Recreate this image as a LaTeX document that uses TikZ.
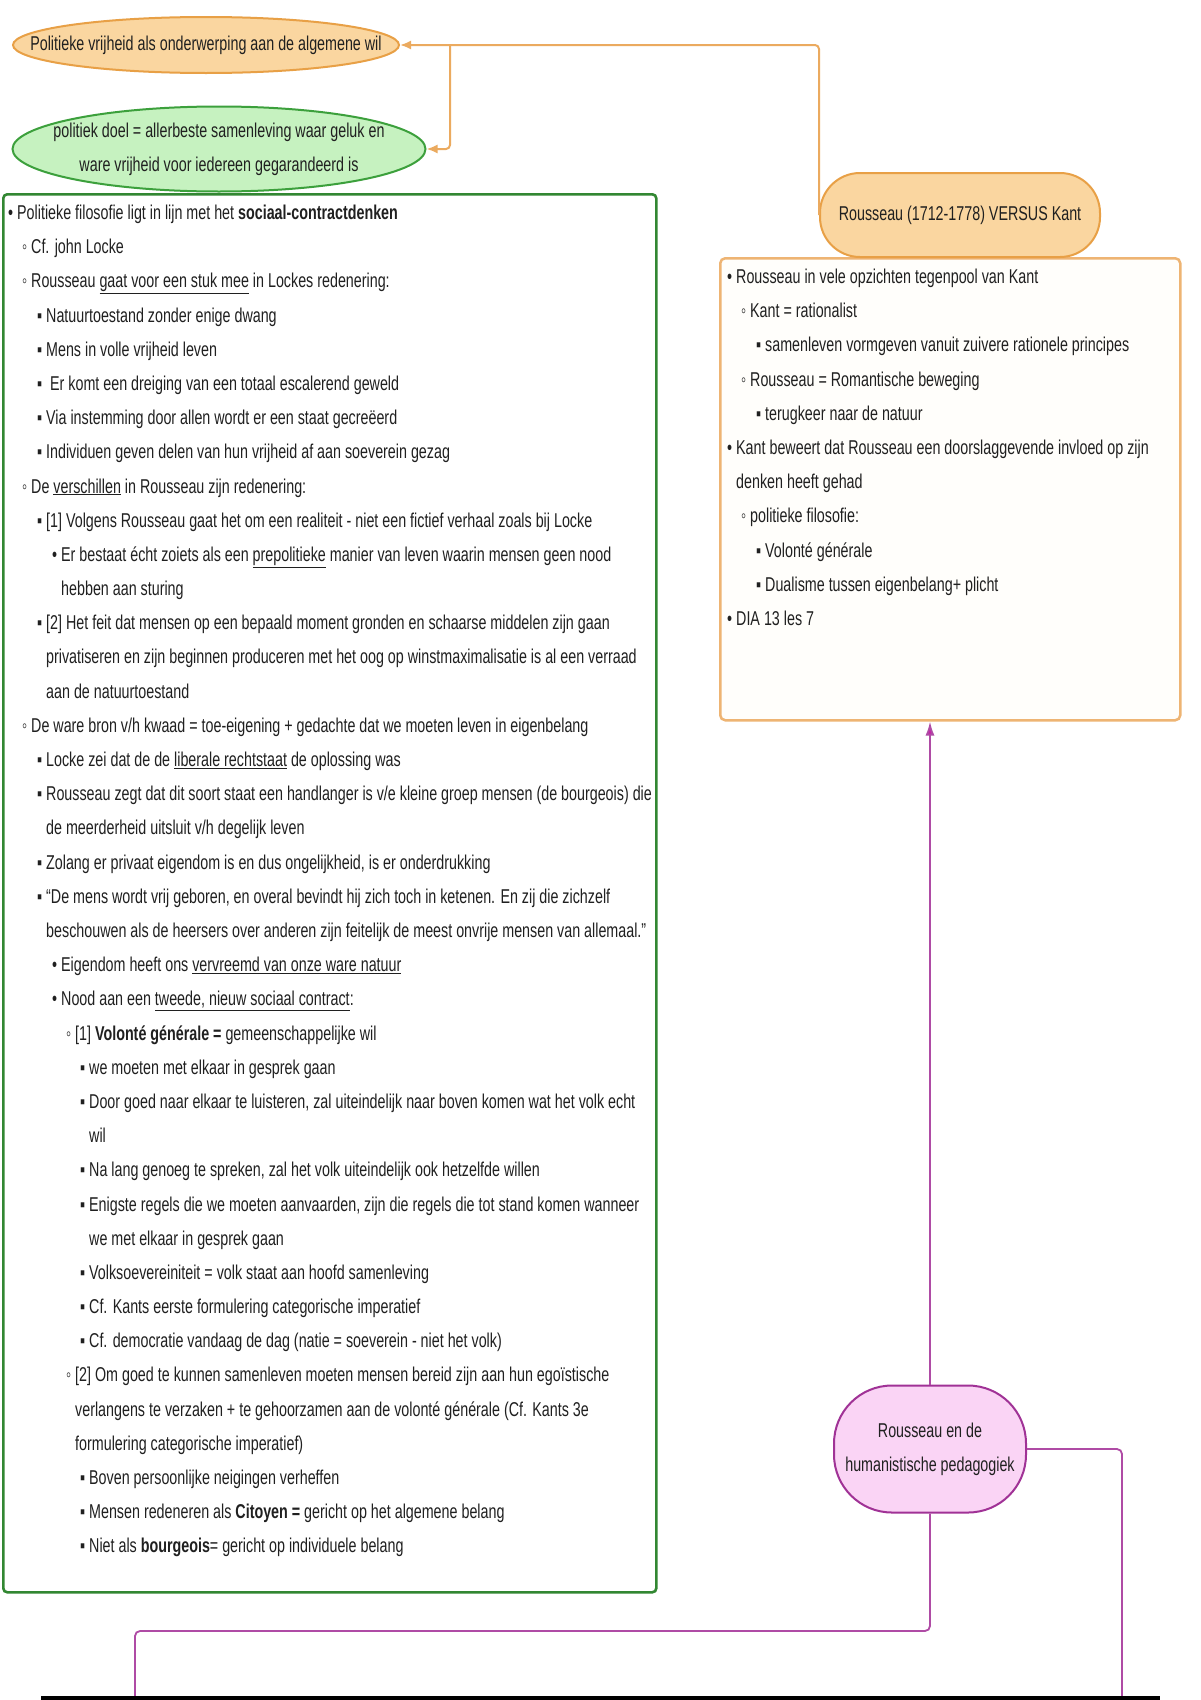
\documentclass[tikz,border=0pt]{standalone}
\usepackage{fontspec}
\setmainfont{Liberation Sans}[FakeStretch=0.715]
\usetikzlibrary{shapes.geometric,arrows.meta}
\definecolor{txtc}{RGB}{32,32,32}
\definecolor{orfill}{RGB}{250,214,160}
\definecolor{ordraw}{RGB}{232,160,70}
\definecolor{orline}{RGB}{235,170,95}
\definecolor{grfill}{RGB}{198,242,192}
\definecolor{grdraw}{RGB}{60,160,60}
\definecolor{gbox}{RGB}{50,135,50}
\definecolor{obox}{RGB}{238,180,115}
\definecolor{obfill}{RGB}{255,254,251}
\definecolor{pkfill}{RGB}{250,212,245}
\definecolor{pkdraw}{RGB}{160,50,150}
\definecolor{mgline}{RGB}{175,75,165}
\definecolor{mgtip}{RGB}{200,30,170}
\newcommand\BD{\llap{•\hspace{4pt}}}
\newcommand\BC{\llap{◦\hspace{4pt}}}
\newcommand\BS{\llap{▪\hspace{4pt}}}
\newcommand\ZW[1]{\makebox[0pt]{#1}}
\newcommand\GL[3]{\node[tl] (g#1) at (#2,{219.5+(#1-1)*34.19}) {#3};}
\newcommand\KL[3]{\node[tl] (k#1) at (#2,{283.5+(#1-1)*34.19}) {#3};}
\begin{document}
\begin{tikzpicture}[x=1pt,y=-1pt,
  every node/.style={text=txtc,font=\fontsize{20}{34}\selectfont},
  tl/.style={anchor=base west,inner sep=0pt},
  oline/.style={draw=orline,line width=2pt,rounded corners=4pt},
  mline/.style={draw=mgline,line width=1.8pt,rounded corners=5pt},
  otip/.style={-{Latex[length=11pt,width=9pt,fill=orline]}},
  mtip/.style={-{Latex[length=14pt,width=9pt,fill=mgtip]}}]
\fill[white] (0,0) rectangle (1200,1700);
\useasboundingbox (0,0) rectangle (1200,1700);
\def\La{17}\def\Lb{31}\def\Lc{46}\def\Ld{61}\def\Le{75}\def\Lf{89}
\def\Ra{736}\def\Rb{750}\def\Rc{765}
% boxes
\node[draw=gbox,line width=2.6pt,rounded corners=4pt,fill=white,minimum width=653pt,minimum height=1398pt,anchor=north west,inner sep=0pt] (gb) at (2,193) {};
\node[draw=obox,line width=2.5pt,rounded corners=5pt,fill=obfill,minimum width=460pt,minimum height=462pt,anchor=north west,inner sep=0pt] (ob) at (719,257) {};
% ellipses / pills
\node[ellipse,draw=ordraw,line width=2pt,fill=orfill,minimum width=386pt,minimum height=56pt,inner sep=0pt] (pv) at (206,45) {\ZW{Politieke vrijheid als onderwerping aan de algemene wil}};
\node[ellipse,draw=grdraw,line width=2pt,fill=grfill,minimum width=413pt,minimum height=85pt,inner sep=0pt,align=center] (pd) at (219,149) {\ZW{politiek doel = allerbeste samenleving waar geluk en}\\\ZW{ware vrijheid voor iedereen gegarandeerd is}};
\node[draw=ordraw,line width=2pt,fill=orfill,rounded corners=40pt,minimum width=280pt,minimum height=84pt,inner sep=0pt] (rk) at (960,215) {Rousseau (1712-1778) VERSUS Kant};
\node[draw=pkdraw,line width=2pt,fill=pkfill,rounded corners=58pt,minimum width=192pt,minimum height=127pt,inner sep=0pt,align=center] (pk) at (930,1449) {Rousseau en de\\humanistische pedagogiek};
% connectors
\coordinate (br) at (450,45);
\draw[oline,otip] (rk.west) |- (pv.east);
\draw[oline,otip] (br) |- (pd.east);
\draw[mline,mtip,rounded corners=0pt] (pk.north) -- (pk.north |- ob.south);
\coordinate (c1) at (135,1631);
\coordinate (e1) at (135,1697);
\coordinate (e2) at (1122,1697);
\draw[mline] (pk.south) |- (c1) -- (e1);
\draw[mline] (pk.east) -| (e2);
\draw[line width=5pt,black] (41,1698) -- (1160,1698);
% left box text
\GL{1}{\La}{\BD Politieke filosofie ligt in lijn met het \textbf{sociaal-contractdenken}}
\GL{2}{\Lb}{\BC Cf. john Locke}
\GL{3}{\Lb}{\BC Rousseau \underline{gaat voor een stuk mee} in Lockes redenering:}
\GL{4}{\Lc}{\BS Natuurtoestand zonder enige dwang}
\GL{5}{\Lc}{\BS Mens in volle vrijheid leven}
\GL{6}{\Lc}{\BS\hspace{4pt}Er komt een dreiging van een totaal escalerend geweld}
\GL{7}{\Lc}{\BS Via instemming door allen wordt er een staat gecreëerd}
\GL{8}{\Lc}{\BS Individuen geven delen van hun vrijheid af aan soeverein gezag}
\GL{9}{\Lb}{\BC De \underline{verschillen} in Rousseau zijn redenering:}
\GL{10}{\Lc}{\BS [1] Volgens Rousseau gaat het om een realiteit - niet een fictief verhaal zoals bij Locke}
\GL{11}{\Ld}{\BD Er bestaat écht zoiets als een \underline{prepolitieke} manier van leven waarin mensen geen nood}
\GL{12}{\Ld}{hebben aan sturing}
\GL{13}{\Lc}{\BS [2] Het feit dat mensen op een bepaald moment gronden en schaarse middelen zijn gaan}
\GL{14}{\Lc}{privatiseren en zijn beginnen produceren met het oog op winstmaximalisatie is al een verraad}
\GL{15}{\Lc}{aan de natuurtoestand}
\GL{16}{\Lb}{\BC De ware bron v/h kwaad = toe-eigening + gedachte dat we moeten leven in eigenbelang}
\GL{17}{\Lc}{\BS Locke zei dat de de \underline{liberale rechtstaat} de oplossing was}
\GL{18}{\Lc}{\BS Rousseau zegt dat dit soort staat een handlanger is v/e kleine groep mensen (de bourgeois) die}
\GL{19}{\Lc}{de meerderheid uitsluit v/h degelijk leven}
\GL{20}{\Lc}{\BS Zolang er privaat eigendom is en dus ongelijkheid, is er onderdrukking}
\GL{21}{\Lc}{\BS “De mens wordt vrij geboren, en overal bevindt hij zich toch in ketenen. En zij die zichzelf}
\GL{22}{\Lc}{beschouwen als de heersers over anderen zijn feitelijk de meest onvrije mensen van allemaal.”}
\GL{23}{\Ld}{\BD Eigendom heeft ons \underline{vervreemd van onze ware natuur}}
\GL{24}{\Ld}{\BD Nood aan een \underline{tweede, nieuw sociaal contract}:}
\GL{25}{\Le}{\BC [1] \textbf{Volonté générale =} gemeenschappelijke wil}
\GL{26}{\Lf}{\BS we moeten met elkaar in gesprek gaan}
\GL{27}{\Lf}{\BS Door goed naar elkaar te luisteren, zal uiteindelijk naar boven komen wat het volk echt}
\GL{28}{\Lf}{wil}
\GL{29}{\Lf}{\BS Na lang genoeg te spreken, zal het volk uiteindelijk ook hetzelfde willen}
\GL{30}{\Lf}{\BS Enigste regels die we moeten aanvaarden, zijn die regels die tot stand komen wanneer}
\GL{31}{\Lf}{we met elkaar in gesprek gaan}
\GL{32}{\Lf}{\BS Volksoevereiniteit = volk staat aan hoofd samenleving}
\GL{33}{\Lf}{\BS Cf. Kants eerste formulering categorische imperatief}
\GL{34}{\Lf}{\BS Cf. democratie vandaag de dag (natie = soeverein - niet het volk)}
\GL{35}{\Le}{\BC [2] Om goed te kunnen samenleven moeten mensen bereid zijn aan hun egoïstische}
\GL{36}{\Le}{verlangens te verzaken + te gehoorzamen aan de volonté générale (Cf. Kants 3e}
\GL{37}{\Le}{formulering categorische imperatief)}
\GL{38}{\Lf}{\BS Boven persoonlijke neigingen verheffen}
\GL{39}{\Lf}{\BS Mensen redeneren als \textbf{Citoyen =} gericht op het algemene belang}
\GL{40}{\Lf}{\BS Niet als \textbf{bourgeois}= gericht op individuele belang}
% right box text
\KL{1}{\Ra}{\BD Rousseau in vele opzichten tegenpool van Kant}
\KL{2}{\Rb}{\BC Kant = rationalist}
\KL{3}{\Rc}{\BS samenleven vormgeven vanuit zuivere rationele principes}
\KL{4}{\Rb}{\BC Rousseau = Romantische beweging}
\KL{5}{\Rc}{\BS terugkeer naar de natuur}
\KL{6}{\Ra}{\BD Kant beweert dat Rousseau een doorslaggevende invloed op zijn}
\KL{7}{\Ra}{denken heeft gehad}
\KL{8}{\Rb}{\BC politieke filosofie:}
\KL{9}{\Rc}{\BS Volonté générale}
\KL{10}{\Rc}{\BS Dualisme tussen eigenbelang+ plicht}
\KL{11}{\Ra}{\BD DIA 13 les 7}
\end{tikzpicture}
\end{document}
